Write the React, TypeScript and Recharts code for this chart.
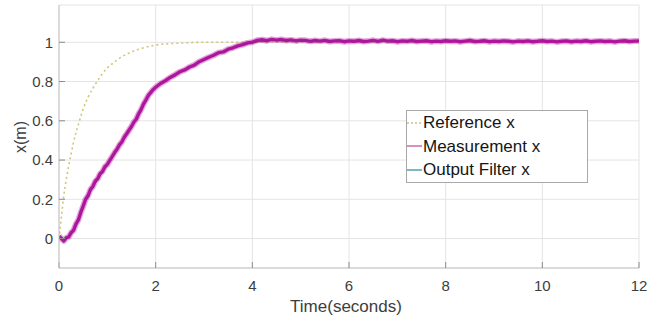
import React from "react";
import { LineChart, Line, XAxis, YAxis, CartesianGrid } from "recharts";

const FONT = "'Liberation Sans', Arial, Helvetica, sans-serif";

// axis setup
const xTicks = [0, 2, 4, 6, 8, 10, 12];
const yTicks = [0, 0.2, 0.4, 0.6, 0.8, 1];

// Reference x (dotted)
const refTime = [0, 0.05, 0.1, 0.15, 0.2, 0.25, 0.3, 0.4, 0.5, 0.6, 0.7, 0.8, 0.9, 1.0, 1.1, 1.2, 1.4, 1.6, 1.8, 2.0, 2.3, 2.6, 3.0, 3.5, 12];
const refX = [0, 0.11, 0.22, 0.3, 0.37, 0.43, 0.49, 0.58, 0.66, 0.72, 0.765, 0.805, 0.84, 0.87, 0.89, 0.91, 0.94, 0.96, 0.975, 0.986, 0.993, 0.997, 1.0, 1.0, 1.0];

// Measurement x (noisy)
const measTime = [
  0, 0.05, 0.1, 0.15, 0.2, 0.25, 0.3, 0.35, 0.4, 0.45, 0.5, 0.55, 0.6, 0.65, 0.7, 0.75, 0.8, 0.85, 0.9, 0.95,
  1.0, 1.05, 1.1, 1.15, 1.2, 1.25, 1.3, 1.35, 1.4, 1.45, 1.5, 1.55, 1.6, 1.65, 1.7, 1.75, 1.8, 1.85, 1.9, 1.95,
  2.0, 2.1, 2.2, 2.3, 2.4, 2.5, 2.6, 2.7, 2.8, 2.9, 3.0, 3.1, 3.2, 3.3, 3.4, 3.5, 3.6, 3.7, 3.8, 3.9, 4.0,
  4.1, 4.2, 4.3, 4.4, 4.5, 4.6, 4.7, 4.8, 4.9, 5.0, 5.1, 5.2, 5.3, 5.4, 5.5, 5.6, 5.7, 5.8, 5.9, 6.0,
  6.1, 6.2, 6.3, 6.4, 6.5, 6.6, 6.7, 6.8, 6.9, 7.0, 7.1, 7.2, 7.3, 7.4, 7.5, 7.6, 7.7, 7.8, 7.9, 8.0,
  8.1, 8.2, 8.3, 8.4, 8.5, 8.6, 8.7, 8.8, 8.9, 9.0, 9.1, 9.2, 9.3, 9.4, 9.5, 9.6, 9.7, 9.8, 9.9, 10.0,
  10.1, 10.2, 10.3, 10.4, 10.5, 10.6, 10.7, 10.8, 10.9, 11.0, 11.1, 11.2, 11.3, 11.4, 11.5, 11.6, 11.7, 11.8, 11.9, 12.0,
];
const measX = [
  0.012, 0.0, -0.012, 0.004, 0.008, 0.03, 0.042, 0.074, 0.095, 0.133, 0.165, 0.2, 0.218, 0.25, 0.265, 0.292, 0.305, 0.33, 0.342, 0.366,
  0.378, 0.398, 0.418, 0.438, 0.455, 0.477, 0.492, 0.516, 0.534, 0.553, 0.571, 0.594, 0.609, 0.637, 0.658, 0.686, 0.707, 0.73, 0.745, 0.76,
  0.771, 0.79, 0.804, 0.821, 0.834, 0.85, 0.859, 0.874, 0.884, 0.901, 0.912, 0.924, 0.934, 0.947, 0.951, 0.965, 0.972, 0.982, 0.988, 0.997, 1.0,
  1.010, 1.013, 1.008, 1.015, 1.011, 1.014, 1.009, 1.012, 1.007, 1.011, 1.010, 1.005, 1.009, 1.006, 1.010, 1.004, 1.007, 1.008, 1.003, 1.007,
  1.005, 1.009, 1.004, 1.006, 1.010, 1.005, 1.011, 1.006, 1.008, 1.003, 1.007, 1.005, 1.009, 1.004, 1.006, 1.008, 1.003, 1.006, 1.004, 1.008,
  1.005, 1.007, 1.003, 1.006, 1.009, 1.004, 1.005, 1.008, 1.003, 1.006, 1.004, 1.007, 1.005, 1.002, 1.006, 1.004, 1.007, 1.003, 1.005, 1.008,
  1.004, 1.006, 1.002, 1.005, 1.007, 1.003, 1.006, 1.004, 1.008, 1.003, 1.005, 1.007, 1.004, 1.006, 1.002, 1.006, 1.008, 1.004, 1.006, 1.007,
];

// Output Filter x (smooth, sits under the measurement band)
const filterTime = [0, 0.1, 0.2, 0.3, 0.4, 0.5, 0.6, 0.8, 1.0, 1.2, 1.4, 1.6, 1.8, 2.0, 2.3, 2.6, 3.0, 3.5, 4.0, 4.5, 5.5, 12];
const filterX = [0.005, -0.004, 0.008, 0.04, 0.094, 0.162, 0.214, 0.302, 0.374, 0.452, 0.532, 0.605, 0.702, 0.768, 0.82, 0.857, 0.91, 0.963, 0.998, 1.011, 1.007, 1.005];

const refData = refTime.map((t, i) => ({ t, x: refX[i] }));
const measData = measTime.map((t, i) => ({ t, x: measX[i] }));
const filterData = filterTime.map((t, i) => ({ t, x: filterX[i] }));

const legendItems = [
  { name: "Reference x", color: "#c9c47e", dash: "2 2" },
  { name: "Measurement x", color: "#d06aa8", dash: undefined },
  { name: "Output Filter x", color: "#4f9fb0", dash: undefined },
];

const tickStyle = { fontSize: 15, fill: "#3d3d3d", fontFamily: FONT };
const axisStroke = { stroke: "#c4c4c4" };
const tickStroke = { stroke: "#8c8c8c" };

function YLabel() {
  return (
    <text x={20} y={137} transform="rotate(-90 20 137)" textAnchor="middle" dominantBaseline="central"
      fontSize={16} fill="#3d3d3d" fontFamily={FONT}>
      x(m)
    </text>
  );
}

export default function App() {
  return (
    <div style={{ position: "absolute", left: 0, top: 0, width: 662, height: 320, background: "#fff" }}>
      <LineChart width={662} height={320} margin={{ top: 5, right: 23, bottom: 0, left: 9 }} style={{ fontFamily: FONT }}>
        <CartesianGrid stroke="#e4e4e4" />
        <XAxis
          dataKey="t" type="number" domain={[0, 12]} ticks={xTicks} allowDataOverflow
          height={52} tick={tickStyle} tickSize={-6} tickMargin={18}
          axisLine={axisStroke} tickLine={tickStroke}
          label={{ value: "Time(seconds)", position: "insideBottom", offset: 8, fontSize: 17, fill: "#3d3d3d", dx: -3 }}
        />
        <XAxis
          xAxisId="top" orientation="top" type="number" domain={[0, 12]} ticks={xTicks}
          height={0} tick={false} tickSize={-6} axisLine={axisStroke} tickLine={tickStroke}
        />
        <YAxis
          type="number" domain={[-0.15, 1.19]} ticks={yTicks} allowDataOverflow
          width={50} tick={tickStyle} tickSize={-6} tickMargin={12}
          axisLine={axisStroke} tickLine={tickStroke}
          label={<YLabel />}
        />
        <YAxis
          yAxisId="right" orientation="right" type="number" domain={[-0.15, 1.19]} ticks={yTicks}
          width={0} tick={false} tickSize={-6} axisLine={axisStroke} tickLine={tickStroke}
        />
        <Line data={refData} dataKey="x" type="monotone" stroke="#cfc57a" strokeWidth={1.6}
          strokeDasharray="2 3" dot={false} isAnimationActive={false} />
        <Line data={filterData} dataKey="x" type="monotone" stroke="#3f8fa3" strokeWidth={1}
          dot={false} isAnimationActive={false} />
        {/* soft halo + core to mimic the noisy measurement band */}
        <Line data={measData} dataKey="x" type="linear" stroke="#c43cb0" strokeWidth={6}
          strokeOpacity={0.45} strokeLinejoin="round" dot={false} isAnimationActive={false} legendType="none" />
        <Line data={measData} dataKey="x" type="linear" stroke="#b3179f" strokeWidth={3.4}
          strokeLinejoin="round" dot={false} isAnimationActive={false} />
        <Line data={filterData} dataKey="x" type="monotone" stroke="#3f2a70" strokeWidth={1}
          strokeOpacity={0.2} dot={false} isAnimationActive={false} legendType="none" />
      </LineChart>
      <div style={{
        position: "absolute", left: 406, top: 110, width: 180, height: 71,
        border: "1px solid #a8a8a8", background: "#fff", fontFamily: FONT, fontSize: 17, color: "#151515",
      }}>
        {legendItems.map((it) => (
          <div key={it.name} style={{ display: "flex", alignItems: "center", height: 23.5, lineHeight: "23.5px" }}>
            <svg width={16} height={10} style={{ flex: "none" }}>
              <line x1={0} y1={5} x2={15} y2={5} stroke={it.color} strokeWidth={1.5} strokeDasharray={it.dash} />
            </svg>
            <span>{it.name}</span>
          </div>
        ))}
      </div>
    </div>
  );
}
